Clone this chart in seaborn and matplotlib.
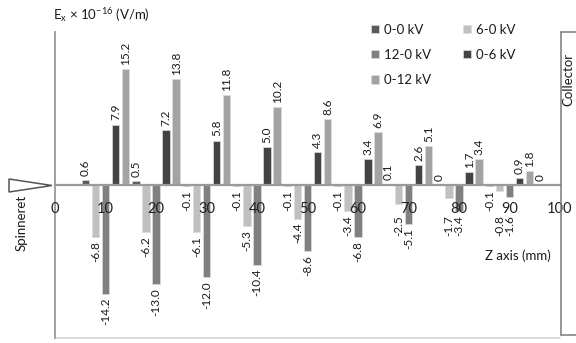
import numpy as np
import pandas as pd
import seaborn as sns
import matplotlib.pyplot as plt
from matplotlib.patches import Polygon
from matplotlib.lines import Line2D

# Axial field component along the spinneret–collector axis
z_mm = [10, 20, 30, 40, 50, 60, 70, 80, 90]
z_mm_00 = [10, 20, 30, 40, 50, 60, 70, 80, 90, 100]
series = ["0-0 kV", "6-0 kV", "12-0 kV", "0-6 kV", "0-12 kV"]
ex_00 = [0.6, 0.5, -0.1, -0.1, -0.1, -0.1, 0.1, 0, -0.1, 0]
ex_60 = [-6.8, -6.2, -6.1, -5.3, -4.4, -3.4, -2.5, -1.7, -0.8]
ex_120 = [-14.2, -13.0, -12.0, -10.4, -8.6, -6.8, -5.1, -3.4, -1.6]
ex_06 = [7.9, 7.2, 5.8, 5.0, 4.3, 3.4, 2.6, 1.7, 0.9]
ex_012 = [15.2, 13.8, 11.8, 10.2, 8.6, 6.9, 5.1, 3.4, 1.8]
tick_labels = ["0", "10", "20", "30", "40", "50", "60", "70", "80", "90", "100"]

colors = ["#5a5a5a", "#c0c0c0", "#808080", "#434343", "#a3a3a3"]

frames = [pd.DataFrame({"z": z_mm_00, "Ex": ex_00, "s": series[0]})]
for name, vals in zip(series[1:], [ex_60, ex_120, ex_06, ex_012]):
    frames.append(pd.DataFrame({"z": z_mm, "Ex": vals, "s": name}))
df = pd.concat(frames, ignore_index=True)

sns.set_theme(style="white")
plt.rcParams["font.family"] = ["Lato", "DejaVu Sans"]
plt.rcParams["mathtext.fontset"] = "custom"
plt.rcParams["mathtext.rm"] = "Lato"

W, H = 576, 343
fig = plt.figure(figsize=(W / 100, H / 100), dpi=100)
ax = fig.add_axes([55 / W, 1 - 338 / H, (560 - 55) / W, (338 - 32) / H])

sns.barplot(data=df, x="z", y="Ex", hue="s", hue_order=series,
            palette=colors, native_scale=True, width=1.0, gap=0.25,
            errorbar=None, edgecolor="#dcdcdc", linewidth=0.5, ax=ax)

def fmt(v):
    return "0" if v == 0 else f"{v:.1f}"

# value labels; short negative bars of the 6-0 / 12-0 kV series get their
# labels dropped below the axis numbers
label_floor = -3.4
for k, c in enumerate(ax.containers):
    anns = ax.bar_label(c, labels=[fmt(v) for v in c.datavalues], rotation=90,
                        padding=3, fontsize=8.5, color="#1a1a1a")
    if series[k] in ("6-0 kV", "12-0 kV"):
        for a, v in zip(anns, c.datavalues):
            if v < 0 and v > label_floor:
                a.xy = (a.xy[0], label_floor)

ax.set_axisbelow(False)
ax.set_xlim(0, 100)
ax.set_ylim(-20, 20)
ax.set_xlabel("")
ax.set_ylabel("")
ax.set_yticks([])
ax.set_xticks(np.arange(0, 101, 10))
ax.set_xticklabels(tick_labels)
ax.tick_params(axis="x", length=0, pad=12, labelsize=10.5, labelcolor="#222222")
for t in ax.get_xticklabels():
    t.set_bbox(dict(facecolor="#dde5f1", edgecolor="none", pad=1.3))

for s in ["top", "right"]:
    ax.spines[s].set_visible(False)
ax.spines["bottom"].set_position(("data", 0))
ax.spines["bottom"].set_color("#9a9a9a")
ax.spines["bottom"].set_linewidth(1.6)
ax.spines["left"].set_color("#9a9a9a")
ax.spines["left"].set_linewidth(1.3)
ax.axhline(-20, color="#d4d4d4", lw=1.2, clip_on=False)

# legend, filled row by row
h, l = ax.get_legend_handles_labels()
ax.get_legend().remove()
order = [0, 2, 4, 1, 3]
fig.legend([h[i] for i in order], [l[i] for i in order], ncol=2,
           loc="upper left", bbox_to_anchor=(364 / W, 1 - 17 / H),
           frameon=False, fontsize=9.5, handlelength=0.6, handleheight=0.6,
           handletextpad=0.4, columnspacing=2.4, labelspacing=1.0,
           borderpad=0, labelcolor="#1a1a1a")

def fx(x):
    return x / W

def fy(y):
    return 1 - y / H

fig.text(fx(53), fy(15), r"E$_\mathregular{x}$ × 10$^\mathregular{-16}$ (V/m)",
         fontsize=9.5, va="center", ha="left", color="#1a1a1a")
fig.text(fx(551), fy(256), "Z axis (mm)", fontsize=9.5, va="center",
         ha="right", color="#1a1a1a")

# spinneret needle
fig.patches.append(Polygon([(fx(9), fy(179)), (fx(9), fy(192)), (fx(52), fy(185.5))],
                           closed=True, facecolor="white", edgecolor="#555555",
                           lw=1.1, transform=fig.transFigure))
fig.text(fx(22), fy(223), "Spinneret", rotation=90, fontsize=9.5,
         va="center", ha="center", color="#1a1a1a")

# collector plate
for xs, ys in [([561, 561], [32, 335]), ([561, 577], [32, 32]), ([561, 577], [335, 335])]:
    fig.add_artist(Line2D([fx(v) for v in xs], [fy(v) for v in ys],
                          color="#7a7a7a", lw=1.1, transform=fig.transFigure))
fig.text(fx(568.5), fy(79), "Collector", rotation=90, fontsize=9.5,
         va="center", ha="center", color="#1a1a1a")

fig.savefig("out.png", dpi=100)
